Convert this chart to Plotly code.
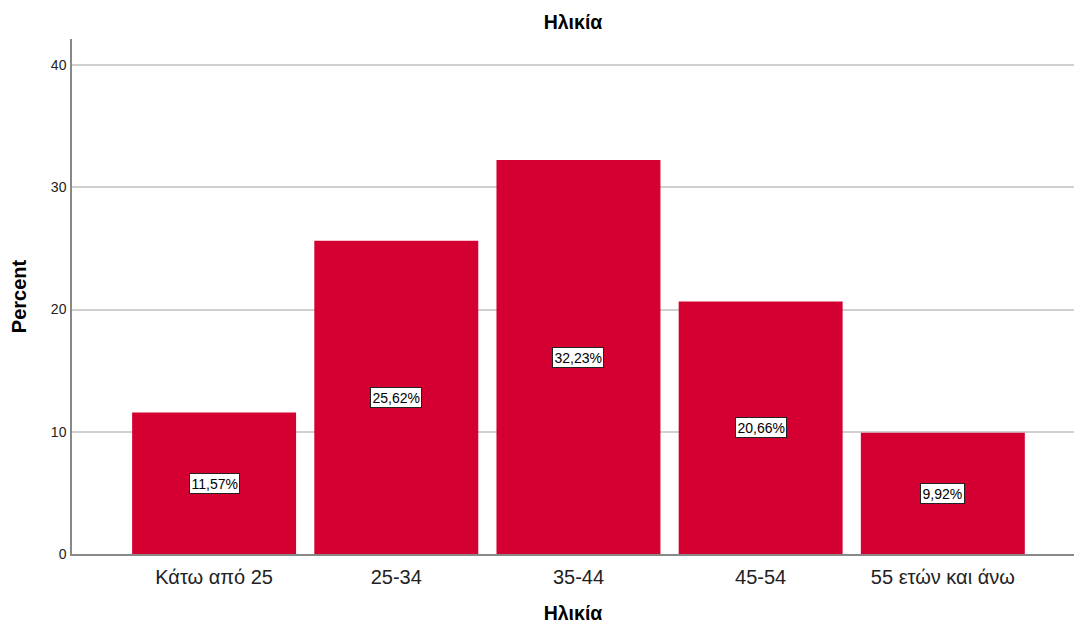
import plotly.graph_objects as go

categories = ["Κάτω από 25", "25-34", "35-44", "45-54", "55 ετών και άνω"]
percent = [11.57, 25.62, 32.23, 20.66, 9.92]
label_text = ["11,57%", "25,62%", "32,23%", "20,66%", "9,92%"]
y_ticks = [0, 10, 20, 30, 40]

BAR = "#D50032"
FONT = "Liberation Sans, Arial, sans-serif"

fig = go.Figure()
fig.add_trace(go.Bar(
    x=list(range(len(categories))), y=percent,
    marker=dict(color=BAR, line=dict(width=0)),
    width=0.9, hoverinfo="skip",
))

for i, (v, t) in enumerate(zip(percent, label_text)):
    fig.add_annotation(
        x=i, y=v / 2, text=t, showarrow=False,
        font=dict(family=FONT, size=14, color="black"),
        bgcolor="white", bordercolor="#222222", borderwidth=1, borderpad=1.5,
    )

fig.update_layout(
    width=1074, height=626,
    margin=dict(l=72, r=0, t=39, b=72),
    paper_bgcolor="white", plot_bgcolor="white",
    showlegend=False,
    font=dict(family=FONT, color="black"),
    title=dict(text="<b>Ηλικία</b>", x=0.5, xanchor="center", xref="paper",
               y=1 - 22 / 626, yanchor="middle", font=dict(size=19.5, family=FONT)),
)

fig.update_xaxes(
    range=[-0.78, 4.72],
    tickmode="array", tickvals=list(range(len(categories))), ticktext=categories,
    tickfont=dict(size=20, color="#222222"),
    showline=True, linecolor="#888888", linewidth=1.5,
    showgrid=False, ticks="outside", ticklen=4, tickcolor="white", zeroline=False,
    title=dict(text="<b>Ηλικία</b>", font=dict(size=19.5), standoff=20),
)
fig.update_yaxes(
    range=[0, 42.13],
    tickmode="array", tickvals=y_ticks,
    tickfont=dict(size=14, color="#222222"),
    showline=True, linecolor="#888888", linewidth=1.5,
    showgrid=True, gridcolor="#D0D0D0", gridwidth=1.5,
    ticks="outside", ticklen=1, tickcolor="white",
    zeroline=False,
    title=dict(text="<b>Percent</b>", font=dict(size=20), standoff=19),
)

fig.write_html("out.html")
